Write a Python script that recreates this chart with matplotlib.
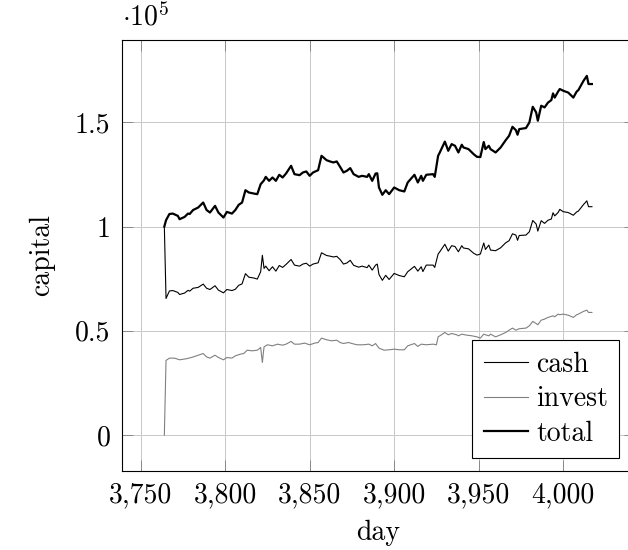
#!/usr/bin/env python3
"""Capital over time: cash, invest and total (values in units of 1e5)."""
import matplotlib
matplotlib.use("Agg")
import matplotlib.pyplot as plt
from matplotlib.ticker import FuncFormatter

# day index for the cash / total series
DAYS = [
    3764, 3765, 3767, 3769, 3772, 3773, 3776, 3778, 3779, 3781,
    3784, 3787, 3789, 3791, 3794, 3796, 3799, 3801, 3804, 3806,
    3808, 3810, 3812, 3814, 3817, 3819, 3821, 3822, 3823, 3824,
    3826, 3828, 3830, 3832, 3834, 3836, 3839, 3841, 3844, 3846,
    3848, 3850, 3852, 3855, 3857, 3860, 3862, 3864, 3866, 3868,
    3870, 3872, 3874, 3876, 3879, 3881, 3884, 3885, 3887, 3889,
    3890, 3891, 3893, 3895, 3897, 3900, 3903, 3906, 3908, 3912,
    3914, 3916, 3917, 3919, 3923, 3924, 3926, 3927, 3930, 3932,
    3934, 3936, 3938, 3940, 3941, 3944, 3947, 3949, 3951, 3953,
    3954, 3956, 3957, 3960, 3963, 3966, 3968, 3970, 3972, 3973,
    3974, 3978, 3980, 3982, 3984, 3985, 3987, 3989, 3991, 3993,
    3994, 3995, 3997, 3998, 4000, 4003, 4006, 4008, 4009, 4012,
    4014, 4015, 4017,
]

TOTAL = [
    1.000, 1.030, 1.060, 1.062, 1.051, 1.035, 1.046, 1.062, 1.060, 1.079,
    1.091, 1.115, 1.079, 1.067, 1.099, 1.067, 1.043, 1.070, 1.062, 1.079,
    1.104, 1.115, 1.174, 1.163, 1.158, 1.155, 1.203, 1.212, 1.222, 1.238,
    1.219, 1.235, 1.219, 1.248, 1.235, 1.254, 1.291, 1.251, 1.246, 1.259,
    1.264, 1.243, 1.259, 1.270, 1.339, 1.318, 1.312, 1.307, 1.312, 1.286,
    1.259, 1.267, 1.280, 1.251, 1.238, 1.243, 1.238, 1.251, 1.219, 1.254,
    1.255, 1.187, 1.152, 1.174, 1.155, 1.187, 1.174, 1.168, 1.211, 1.248,
    1.211, 1.243, 1.219, 1.248, 1.251, 1.238, 1.339, 1.355, 1.407, 1.363,
    1.395, 1.387, 1.355, 1.392, 1.379, 1.371, 1.347, 1.334, 1.333, 1.405,
    1.371, 1.387, 1.371, 1.355, 1.379, 1.414, 1.435, 1.478, 1.462, 1.440,
    1.467, 1.472, 1.499, 1.574, 1.547, 1.507, 1.579, 1.571, 1.594, 1.606,
    1.638, 1.618, 1.647, 1.659, 1.651, 1.642, 1.618, 1.647, 1.654, 1.698,
    1.722, 1.683, 1.683,
]

CASH = [
    1.000, 0.655, 0.691, 0.693, 0.684, 0.674, 0.681, 0.694, 0.690, 0.704,
    0.708, 0.724, 0.704, 0.698, 0.716, 0.695, 0.682, 0.698, 0.693, 0.699,
    0.718, 0.725, 0.774, 0.757, 0.753, 0.748, 0.783, 0.862, 0.799, 0.810,
    0.788, 0.807, 0.786, 0.813, 0.804, 0.818, 0.842, 0.815, 0.810, 0.820,
    0.824, 0.810, 0.820, 0.826, 0.874, 0.861, 0.858, 0.854, 0.857, 0.842,
    0.820, 0.825, 0.838, 0.814, 0.805, 0.810, 0.803, 0.815, 0.791, 0.815,
    0.820, 0.770, 0.742, 0.766, 0.746, 0.775, 0.765, 0.759, 0.783, 0.809,
    0.786, 0.807, 0.784, 0.815, 0.815, 0.804, 0.868, 0.879, 0.915, 0.882,
    0.908, 0.904, 0.879, 0.908, 0.897, 0.893, 0.872, 0.863, 0.868, 0.921,
    0.890, 0.911, 0.887, 0.884, 0.898, 0.922, 0.932, 0.965, 0.959, 0.934,
    0.957, 0.959, 0.975, 1.029, 1.012, 0.978, 1.028, 1.015, 1.030, 1.036,
    1.066, 1.051, 1.067, 1.082, 1.071, 1.067, 1.054, 1.070, 1.074, 1.105,
    1.123, 1.095, 1.095,
]

INVEST_DAYS = [
    3764, 3765, 3767, 3770, 3773, 3777, 3780, 3783, 3787, 3789,
    3791, 3794, 3796, 3799, 3801, 3804, 3806, 3809, 3811, 3813,
    3816, 3819, 3821, 3822, 3823, 3825, 3828, 3831, 3834, 3836,
    3839, 3841, 3844, 3847, 3850, 3853, 3855, 3857, 3860, 3863,
    3866, 3868, 3870, 3873, 3875, 3878, 3882, 3885, 3887, 3889,
    3891, 3894, 3897, 3900, 3903, 3906, 3908, 3912, 3914, 3916,
    3919, 3923, 3925, 3926, 3928, 3930, 3932, 3934, 3937, 3938,
    3940, 3943, 3946, 3949, 3951, 3953, 3954, 3956, 3957, 3960,
    3963, 3966, 3968, 3970, 3972, 3974, 3978, 3980, 3982, 3984,
    3985, 3987, 3989, 3991, 3994, 3995, 3997, 3998, 4000, 4003,
    4006, 4008, 4009, 4012, 4014, 4015, 4017,
]

INVEST = [
    0.000, 0.358, 0.369, 0.369, 0.361, 0.366, 0.372, 0.380, 0.391, 0.375,
    0.369, 0.383, 0.372, 0.361, 0.372, 0.369, 0.380, 0.388, 0.391, 0.407,
    0.404, 0.407, 0.420, 0.348, 0.423, 0.433, 0.428, 0.436, 0.431, 0.436,
    0.449, 0.436, 0.436, 0.441, 0.433, 0.441, 0.444, 0.465, 0.457, 0.452,
    0.455, 0.444, 0.439, 0.444, 0.439, 0.433, 0.433, 0.436, 0.428, 0.439,
    0.417, 0.407, 0.409, 0.412, 0.409, 0.409, 0.428, 0.439, 0.425, 0.436,
    0.433, 0.436, 0.433, 0.471, 0.481, 0.492, 0.481, 0.487, 0.481, 0.476,
    0.484, 0.479, 0.476, 0.471, 0.465, 0.484, 0.481, 0.476, 0.484, 0.471,
    0.481, 0.492, 0.503, 0.513, 0.503, 0.510, 0.513, 0.524, 0.545, 0.535,
    0.529, 0.551, 0.556, 0.564, 0.572, 0.567, 0.580, 0.577, 0.580, 0.575,
    0.564, 0.577, 0.580, 0.593, 0.599, 0.588, 0.588,
]

X_TICKS = [3750, 3800, 3850, 3900, 3950, 4000]
Y_TICKS = [0, 0.5, 1, 1.5]

FS = 20


def main() -> None:
    plt.rcParams.update({
        "font.family": "cmr10",
        "mathtext.fontset": "cm",
        "axes.formatter.use_mathtext": True,
        "axes.unicode_minus": False,
        "font.size": FS,
    })

    fig = plt.figure(figsize=(6.28, 5.5), dpi=100)
    # right edge sits past the canvas, as in the cropped original
    ax = fig.add_axes([0.1936, 0.1436, 0.817, 0.7837])

    ax.plot(DAYS, CASH, color="black", linewidth=0.8, label="cash", zorder=3)
    ax.plot(INVEST_DAYS, INVEST, color="#808080", linewidth=0.8,
            label="invest", zorder=3)
    ax.plot(DAYS, TOTAL, color="black", linewidth=1.6, label="total", zorder=4)

    ax.set_xlim(3738.7, 4042.3)
    ax.set_ylim(-0.1722, 1.8942)
    ax.set_xticks(X_TICKS)
    ax.set_yticks(Y_TICKS)
    ax.xaxis.set_major_formatter(FuncFormatter(lambda v, p: f"{int(round(v)):,}"))
    ax.yaxis.set_major_formatter(FuncFormatter(lambda v, p: f"{v:g}"))

    ax.grid(True, color="#c8c8c8", linewidth=0.7, zorder=0)
    ax.set_axisbelow(True)
    ax.tick_params(direction="in", length=8, width=0.7, color="#8a8a8a",
                   top=True, right=True, labelsize=FS, pad=8)
    for sp in ax.spines.values():
        sp.set_linewidth(0.8)
    ax.spines["right"].set_visible(False)

    ax.set_xlabel("day", fontsize=FS, labelpad=8)
    ax.set_ylabel("capital", fontsize=FS, labelpad=14)

    ax.annotate(r"$\cdot 10^{5}$", xy=(0, 1), xycoords="axes fraction",
                xytext=(0, 6), textcoords="offset points",
                ha="left", va="bottom", fontsize=FS)

    leg = ax.legend(loc="lower right", bbox_to_anchor=(0.97, 0.03),
                    borderaxespad=0, fancybox=False, shadow=False,
                    edgecolor="black", framealpha=1, fontsize=FS,
                    handlelength=1.6, handletextpad=0.3, labelspacing=0.3,
                    borderpad=0.4)
    leg.get_frame().set_linewidth(0.8)

    fig.savefig("out.png", dpi=100)
    plt.close(fig)


if __name__ == "__main__":
    main()
